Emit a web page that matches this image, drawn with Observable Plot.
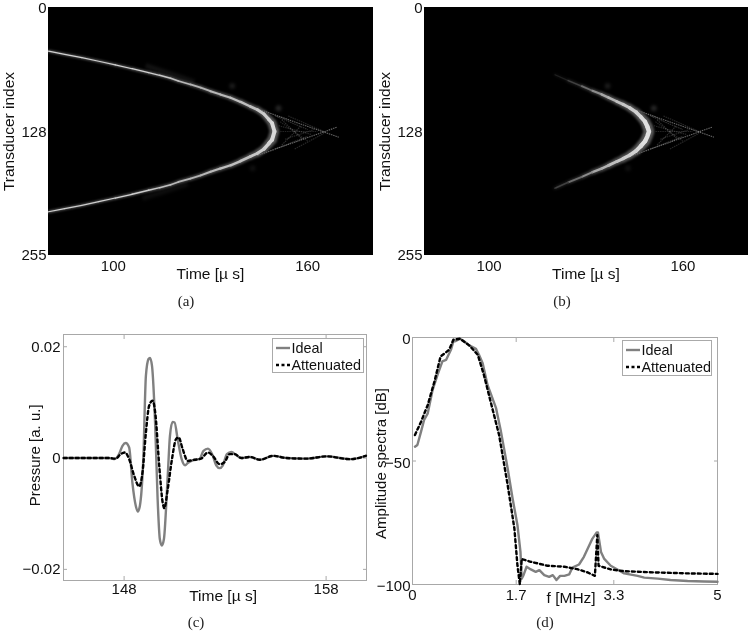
<!DOCTYPE html>
<html>
<head>
<meta charset="utf-8">
<script src="https://cdn.jsdelivr.net/npm/d3@7"></script>
<script src="https://cdn.jsdelivr.net/npm/@observablehq/plot@0.6"></script>
<style>
html,body{margin:0;padding:0;background:#fff;}
#page{position:relative;width:750px;height:633px;overflow:hidden;font-family:"Liberation Sans",sans-serif;color:#111;}
.panel{position:absolute;}
.cap{position:absolute;font:15px "Liberation Serif",serif;transform:translateX(-50%);color:#222;}
.legend{position:absolute;background:#fff;border:1px solid #aaa;box-sizing:border-box;font-size:14.4px;padding:0 0 0 3px;}
.legend div{display:flex;align-items:center;height:17.5px;white-space:nowrap;}
.legend svg{width:14px;height:6px;margin-right:1.5px;flex:none;}
</style>
</head>
<body>
<div id="page"></div>
<script>
// Panel (a): wavefront, half offset from the centre element against arrival time
const aTime   = [80,85,90.3,95.5,100.6,105.8,110.9,114.3,117.7,120.1,123.8,127,130,133,136.2,139.3,142.3,144.5,146.5,148,149,149.75];
const aOffset = [82.9,79.6,76.2,72.5,68.7,64.8,60.7,58,55,52.1,48.6,45.3,41.6,38.3,34.9,30.5,25.8,22.5,18.1,12.5,8.6,0];
const aLevel  = [.82,.82,.8,.8,.82,.82,.8,.78,.75,.72,.7,.7,.72,.72,.75,.75,.75,.78,.8,.82,.85,.85];
const aWidth  = [1.5,1.5,1.5,1.5,1.5,1.6,1.7,1.8,2,2,2.2,2.3,2.5,2.6,2.8,3,3.3,3.6,4,4.4,4.8,5];

// Panel (b): wavefront of the attenuated data
const bTime   = [120.4,124.5,128.7,132,134.8,137,139.5,141.5,143.5,145.5,147,148.3,149,149.5];
const bOffset = [58.5,52.5,46.8,42,38.4,35,31,28,24.5,20,15,10,5,0];
const bLevel  = [.12,.25,.42,.55,.65,.7,.75,.78,.8,.82,.85,.88,.88,.88];
const bWidth  = [1.5,2,2.2,2.5,3,3.2,3.5,3.8,4.2,4.6,5,5.4,5.6,5.6];

// Faint secondary fronts: start time, start index, end time, end index, level
const ghostT1 = [144.4,144.4,150,152,150,152,151,153,154,156,151.5,151.5];
const ghostI1 = [104.6,152.8,112,116,146,142,122,136,112,146,128,118];
const ghostT2 = [169.6,169.1,160,158,160,158,161,162,165,165,163,160];
const ghostI2 = [133.9,123.5,126,135,133,122,131,126,128,130,128,138];
const ghostL  = [.4,.4,.2,.18,.2,.18,.16,.16,.16,.16,.14,.14];
// Faint bands just outside the thin part of the front, panel (a) only
const tailT1 = [110,109];
const tailI1 = [60,197];
const tailT2 = [125,123];
const tailI2 = [77,182];
const tailL  = [.07,.05];
// Faint isolated patches
const patchT = [136.7,151,143];
const patchI = [81,104,166];
const patchL = [.1,.14,.06];

// Panel (c): pressure signals (x 1e-3 a.u.)
const idealT = [145.01,147.25,147.54,147.75,147.92,148.08,148.25,148.41,148.58,148.68,148.78,148.95,149.08,149.21,149.28,149.38,149.54,149.66,149.77,149.87,149.97,150.16,150.27,150.40,150.50,150.65,150.85,151.02,151.15,151.40,151.73,151.93,152.15,152.36,152.56,152.73,152.89,153.09,153.31,153.56,153.80,154.22,154.72,155.38,156.04,157.04,158.03,159.19,159.97];
const idealP = [0,0,-.18,.72,2.2,2.7,1.9,-4.4,-8.6,-9.6,-8.6,-.2,14.8,17.8,18,16.6,5.8,-7.4,-14.6,-15.7,-14.6,-3.2,4,6.5,6.4,3.4,-.2,-1.3,-.9,-.4,-.2,1.3,1.7,.7,-1.3,-1.8,-1.3,.7,1.1,.5,0,.2,-.3,.4,0,-.1,.3,-.2,.4];
const attT = [145.01,147.25,147.59,147.83,148.05,148.25,148.5,148.75,148.91,149.08,149.24,149.41,149.54,149.74,149.91,149.99,150.16,150.37,150.57,150.70,150.90,151.15,151.48,151.81,152.15,152.39,152.73,152.98,153.22,153.47,153.80,154.22,154.72,155.38,156.04,157.04,158.03,159.19,159.97];
const attP = [0,0,-.1,.7,1,-.2,-3.2,-5.1,-2.6,4.6,9.4,10.3,8.2,-1.4,-8,-9,-5.6,-.2,3.4,3.7,1.6,-.5,-.3,-.1,1,.4,-1.1,-.7,.7,.7,0,.2,-.3,.4,0,-.1,.3,-.2,.4];

// Panel (d): amplitude spectra
const idealF = [.04,.08,.14,.19,.25,.33,.41,.49,.55,.63,.67,.71,.78,.85,.93,1.04,1.09,1.15,1.23,1.37,1.45,1.56,1.64,1.72,1.77,1.79,1.82,1.87,1.94,2.02,2.08,2.16,2.24,2.30,2.36,2.42,2.49,2.57,2.62,2.73,2.81,2.95,3.02,3.04,3.09,3.14,3.25,3.33,3.47,3.69,3.80,4.02,4.23,4.51,4.78,5];
const idealDb = [-44.2,-43.5,-38.1,-33.4,-30.7,-21.2,-15.1,-9.7,-9.1,-5,-1.6,-1.4,-.5,-1.6,-3.2,-4.6,-7,-10.4,-19.2,-28.6,-38.1,-53,-65.1,-75.9,-86.8,-97.6,-96.2,-92.8,-93.9,-94.9,-94.2,-96.2,-96.9,-96.2,-98.2,-96.5,-96.5,-95.9,-93.2,-91.9,-88.8,-81.4,-78.9,-78.9,-86.8,-89.5,-92.4,-93.5,-95.5,-96.5,-97.2,-97.6,-98.2,-98.6,-98.8,-98.9];
const attF = [.04,.14,.25,.36,.46,.60,.67,.78,.93,1.07,1.17,1.28,1.42,1.56,1.67,1.72,1.76,1.79,1.94,2.21,2.49,2.70,2.87,2.99,3.03,3.05,3.25,3.47,3.96,4.51,5];
const attDb = [-39.5,-34.1,-27.3,-17.8,-7.7,-5,-.9,-.5,-3.2,-7,-15.1,-25.9,-39.5,-59.7,-77.3,-92.2,-100,-89.7,-90.8,-92.4,-92.8,-93.8,-95.1,-96.5,-80,-92.4,-93.9,-94.6,-95.1,-95.5,-95.7];

// Axes
const heatXTicks = [100,160];
const heatYTicks = [0,128,255];
const pressXTicks = [148,158];
const pressYTicks = [0.02,0,-0.02];
const pressYLabels = ["0.02","0","\u22120.02"];
const specXTicks = [0,1.7,3.3,5];
const specYTicks = [0,-50,-100];
const specYLabels = ["0","\u221250","\u2212100"];

const TICK = 15, LABEL = 15.5, LABEL_SMALL = 15, FRAME = "#a8a8a8";
const CENTRE = 128;
const page = document.getElementById("page");
function place(node, left, top) {
  const d = document.createElement("div");
  d.className = "panel"; d.style.left = left + "px"; d.style.top = top + "px";
  d.appendChild(node); page.appendChild(d);
}
function caption(txt, x, y) {
  const d = document.createElement("div");
  d.className = "cap"; d.textContent = txt; d.style.left = x + "px"; d.style.top = y + "px";
  page.appendChild(d);
}
function legend(left, top, w, h) {
  const d = document.createElement("div");
  d.className = "legend";
  Object.assign(d.style, {left: left + "px", top: top + "px", width: w + "px", height: h + "px"});
  d.innerHTML = '<div><svg><line x1="0" x2="14" y1="3" y2="3" stroke="#808080" stroke-width="2.4"/></svg>Ideal</div>' +
                '<div><svg><line x1="0" x2="14" y1="3" y2="3" stroke="#000" stroke-width="2.4" stroke-dasharray="3 2.5"/></svg>Attenuated</div>';
  page.appendChild(d);
}
// Both branches of the front, joined at the vertex
function front(t, off, l, w) {
  const up = t.map((_, k) => ({t: t[k], i: CENTRE - off[k], l: l[k], w: w[k]}));
  const down = t.map((_, k) => ({t: t[k], i: CENTRE + off[k], l: l[k], w: w[k]})).reverse().slice(1);
  return up.concat(down);
}
const ghosts = ghostT1.map((_, k) => ({t1: ghostT1[k], i1: ghostI1[k], t2: ghostT2[k], i2: ghostI2[k], l: ghostL[k]}));
const tails = tailT1.map((_, k) => ({t1: tailT1[k], i1: tailI1[k], t2: tailT2[k], i2: tailI2[k], l: tailL[k]}));
const patches = patchT.map((_, k) => ({t: patchT[k], i: patchI[k], l: patchL[k]}));

function heat(curve, opts) {
  return Plot.plot({
    width: opts.w, height: 300,
    marginLeft: opts.ml, marginRight: opts.w - opts.fr, marginTop: 7, marginBottom: 46,
    style: {background: "transparent", fontFamily: "Liberation Sans", color: "#111", overflow: "visible"},
    x: {domain: [80, 180], axis: null},
    y: {domain: [255, 0], axis: null},
    color: {type: "linear", domain: [0, 1], range: ["#000", "#fff"]},
    marks: [
      Plot.frame({fill: "#000", stroke: "#000"}),
      opts.tails ? Plot.link(tails, {x1: "t1", y1: "i1", x2: "t2", y2: "i2", stroke: "l", strokeWidth: 5, clip: true, imageFilter: "blur(1.5px)", mixBlendMode: "screen"}) : null,
      Plot.line(curve, {x: "t", y: "i", z: null, stroke: d => d.l * 0.38, strokeWidth: d => d.w * 1.9, clip: true, imageFilter: "blur(1.2px)"}),
      Plot.link(ghosts, {x1: "t1", y1: "i1", x2: "t2", y2: "i2", stroke: "l", strokeWidth: 1.1, strokeDasharray: "1.5 0.8", clip: true, imageFilter: "blur(0.4px)", mixBlendMode: "screen"}),
      Plot.dot(patches, {x: "t", y: "i", r: 3, fill: "l", clip: true, imageFilter: "blur(1.8px)", mixBlendMode: "screen"}),
      Plot.line(curve, {x: "t", y: "i", z: null, stroke: "l", strokeWidth: d => d.w * 0.8, clip: true, imageFilter: "blur(0.5px)"}),
      Plot.axisX({ticks: heatXTicks, tickSize: 0, tickPadding: 6, fontSize: TICK, label: null, tickFormat: d => String(d)}),
      Plot.axisY({ticks: heatYTicks, tickSize: 0, tickPadding: 2, dy: 1, fontSize: TICK, label: null, tickFormat: d => String(d)}),
      Plot.text(["Time [\u00b5 s]"], {x: [130], frameAnchor: "bottom", dy: 24, fontSize: LABEL}),
      Plot.text(["Transducer index"], {y: [128], frameAnchor: "left", textAnchor: "middle", dx: -39, rotate: -90, fontSize: LABEL})
    ]
  });
}
place(heat(front(aTime, aOffset, aLevel, aWidth), {w: 375, ml: 48, fr: 372, tails: true}), 0, 0);
place(heat(front(bTime, bOffset, bLevel, bWidth), {w: 375, ml: 49, fr: 372, tails: false}), 375, 0);

function frameTicks(xt, yt) {
  return [
    Plot.axisX({ticks: xt, anchor: "bottom", tickSize: -4, stroke: FRAME, text: null, label: null}),
    Plot.axisX({ticks: xt, anchor: "top", tickSize: -4, stroke: FRAME, text: null, label: null}),
    Plot.axisY({ticks: yt, anchor: "left", tickSize: -4, stroke: FRAME, text: null, label: null}),
    Plot.axisY({ticks: yt, anchor: "right", tickSize: -4, stroke: FRAME, text: null, label: null})
  ];
}
const pressure = Plot.plot({
  width: 375, height: 285, marginLeft: 63, marginRight: 9, marginTop: 9, marginBottom: 30,
  style: {background: "transparent", fontFamily: "Liberation Sans", color: "#111", overflow: "visible"},
  x: {domain: [145, 160], axis: null},
  y: {domain: [-0.022, 0.0222], axis: null},
  marks: [
    Plot.frame({stroke: FRAME}),
    ...frameTicks(pressXTicks, pressYTicks),
    Plot.line(idealT, {x: d => d, y: (d, k) => idealP[k] / 1000, stroke: "#808080", strokeWidth: 2.4, curve: "monotone-x"}),
    Plot.line(attT, {x: d => d, y: (d, k) => attP[k] / 1000, stroke: "#000", strokeWidth: 2.4, strokeDasharray: "3 3", curve: "monotone-x"}),
    Plot.axisX({ticks: pressXTicks, tickSize: 0, tickPadding: 3, fontSize: TICK, label: null, tickFormat: d => String(d)}),
    Plot.axisY({ticks: pressYTicks, tickSize: 0, tickPadding: 3, fontSize: TICK, label: null, tickFormat: (d) => pressYLabels[pressYTicks.indexOf(d)]}),
    Plot.text(["Time [\u00b5 s]"], {x: [152.9], frameAnchor: "bottom", dy: 20, fontSize: LABEL}),
    Plot.text(["Pressure [a. u.]"], {y: [0.0005], frameAnchor: "left", textAnchor: "middle", dx: -28, rotate: -90, fontSize: LABEL_SMALL})
  ]
});
place(pressure, 0, 325);

const spectra = Plot.plot({
  width: 375, height: 285, marginLeft: 37, marginRight: 33, marginTop: 12, marginBottom: 26,
  style: {background: "transparent", fontFamily: "Liberation Sans", color: "#111", overflow: "visible"},
  x: {domain: [0, 5], axis: null},
  y: {domain: [-100, 0], axis: null},
  marks: [
    Plot.frame({stroke: FRAME}),
    ...frameTicks(specXTicks, specYTicks),
    Plot.line(idealF, {x: d => d, y: (d, k) => idealDb[k], stroke: "#808080", strokeWidth: 2.4}),
    Plot.line(attF, {x: d => d, y: (d, k) => attDb[k], stroke: "#000", strokeWidth: 2.4, strokeDasharray: "3 3"}),
    Plot.axisX({ticks: specXTicks, tickSize: 0, tickPadding: 5, fontSize: TICK, label: null, tickFormat: d => String(d)}),
    Plot.axisY({ticks: specYTicks, tickSize: 0, tickPadding: 2, dy: 2, fontSize: TICK, label: null, tickFormat: d => specYLabels[specYTicks.indexOf(d)]}),
    Plot.text(["f [MHz]"], {x: [2.6], frameAnchor: "bottom", dy: 18, fontSize: LABEL}),
    Plot.text(["Amplitude spectra [dB]"], {y: [-51], frameAnchor: "left", textAnchor: "middle", dx: -31, rotate: -90, fontSize: LABEL_SMALL})
  ]
});
place(spectra, 375, 325);

legend(272, 338, 92, 35);
legend(622, 340, 90, 36);

caption("(a)", 186, 293);
caption("(b)", 562, 293);
caption("(c)", 196, 614);
caption("(d)", 545, 614);
</script>
</body>
</html>
